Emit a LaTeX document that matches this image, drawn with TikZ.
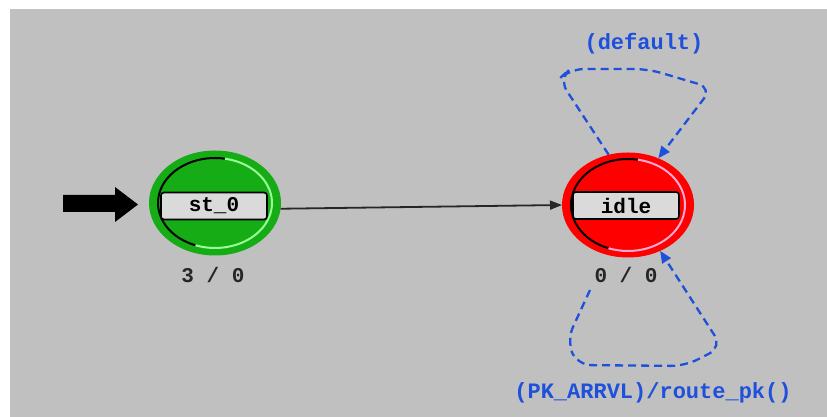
\documentclass[tikz,border=0pt]{standalone}
\usepackage{fontspec}
\newfontfamily\monofont{Liberation Mono}
\usetikzlibrary{shapes.geometric,arrows.meta}
\definecolor{bggray}{RGB}{192,192,192}
\definecolor{stgreen}{RGB}{22,172,22}
\definecolor{lightgreen}{RGB}{150,255,150}
\definecolor{stred}{RGB}{255,0,0}
\definecolor{lightpink}{RGB}{255,170,210}
\definecolor{boxgray}{RGB}{218,218,218}
\definecolor{trblue}{RGB}{30,80,220}
\begin{document}
\begin{tikzpicture}[x=1pt,y=1pt,
  statecirc/.style={ellipse,minimum width=131pt,minimum height=104pt,inner sep=0pt,line width=1pt},
  namebox/.style={draw=black,line width=1.6pt,fill=boxgray,rounded corners=3pt,minimum width=106pt,minimum height=27pt,inner sep=0pt,font=\monofont\bfseries\fontsize{21}{21}\selectfont},
  countlbl/.style={font=\monofont\bfseries\fontsize{21}{21}\selectfont,text=black!85},
  translbl/.style={font=\monofont\bfseries\fontsize{22}{22}\selectfont,text=trblue},
  loopline/.style={draw=trblue,line width=2.3pt,dash pattern=on 8pt off 5pt,rounded corners=14pt,-{Triangle[length=12pt,width=10pt]}},
  bevel/.style={line width=2pt}]
\useasboundingbox (0,0) rectangle (827,417);
\fill[white] (0,0) rectangle (827,417);
\fill[bggray] (10,0) rectangle (827,408);
% states
\node[statecirc,fill=stgreen,draw=stgreen] (st0) at (215,214) {};
\node[statecirc,fill=stred,draw=stred] (idle) at (628,212) {};
% bevel arcs
\draw[bevel,black] (215,214) ++(80:57pt and 45pt) arc[start angle=80,end angle=250,x radius=57pt,y radius=45pt];
\draw[bevel,lightgreen] (215,214) ++(80:57pt and 45pt) arc[start angle=80,end angle=-110,x radius=57pt,y radius=45pt];
\draw[bevel,black] (628,212) ++(80:57pt and 46pt) arc[start angle=80,end angle=250,x radius=57pt,y radius=46pt];
\draw[bevel,lightpink] (628,212) ++(80:57pt and 46pt) arc[start angle=80,end angle=-110,x radius=57pt,y radius=46pt];
% name boxes
\node[namebox] (st0name) at (214,211) {st\_0};
\node[namebox] (idlename) at (626,211.5) {idle};
% counts
\node[countlbl] (st0cnt) at (213,142) {3 / 0};
\node[countlbl] (idlecnt) at (626,142) {0 / 0};
% initial arrow
\fill[black] (63,222) -- (115,222) -- (115,230) -- (138,212.5) -- (115,195) -- (115,205) -- (63,205) -- cycle;
% transition
\draw[line width=1.8pt,black!85,-{Triangle[length=12pt,width=9pt]}] (st0.-5) -- (idle.west);
% self loops
\coordinate (botstart) at (590,127);
\draw[loopline] (idle.111) -- (559,338) -- (570,348) -- (648,348) -- (712,329) -- (idle.57);
\draw[loopline] (botstart) -- (567,77) -- (577,52) -- (685,51) -- (722,70) -- (idle.-55);
\node[translbl] (deflbl) at (644,373) {(default)};
\node[translbl] (pklbl) at (653,24) {(PK\_ARRVL)/route\_pk()};
\end{tikzpicture}
\end{document}
